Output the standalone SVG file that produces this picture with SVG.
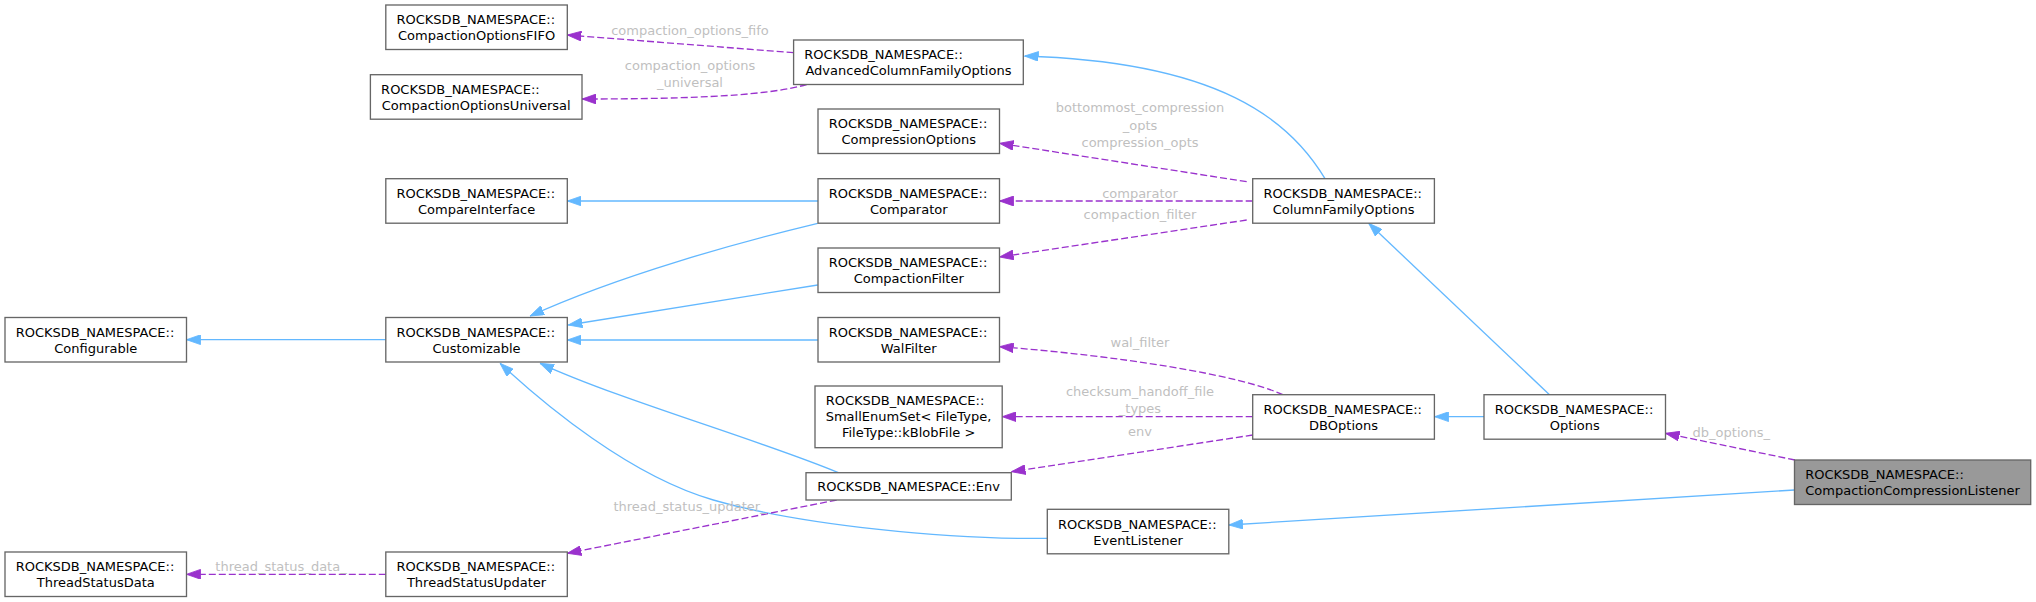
<svg xmlns="http://www.w3.org/2000/svg" width="2036" height="602" viewBox="0 0 2036 602">
<style>
.box{fill:#ffffff;stroke:#666666;stroke-width:1.33}
.main{fill:#999999;stroke:#666666;stroke-width:1.33}
.t{font-family:"DejaVu Sans","Liberation Sans",sans-serif;font-size:13px;fill:#000000}
.c{text-anchor:middle}
.lbl{font-family:"DejaVu Sans","Liberation Sans",sans-serif;font-size:13px;fill:#bfbfbf;text-anchor:middle}
.inh{fill:none;stroke:#63b8ff;stroke-width:1.33;marker-end:url(#ab)}
.use{fill:none;stroke:#9a32cd;stroke-width:1.33;stroke-dasharray:7,3;marker-end:url(#ap)}
</style>
<defs>
<marker id="ab" markerUnits="userSpaceOnUse" markerWidth="14" markerHeight="10" viewBox="0 0 13.33 9.33" refX="13.33" refY="4.67" orient="auto">
<path d="M0,0 L13.33,4.67 L0,9.33 z" fill="#63b8ff" stroke="#63b8ff" stroke-width="0.8"/>
</marker>
<marker id="ap" markerUnits="userSpaceOnUse" markerWidth="14" markerHeight="10" viewBox="0 0 13.33 9.33" refX="13.33" refY="4.67" orient="auto">
<path d="M0,0 L13.33,4.67 L0,9.33 z" fill="#9a32cd" stroke="#9a32cd" stroke-width="0.8"/>
</marker>
</defs>
<rect width="2036" height="602" fill="#ffffff"/>

<g id="connectors">
<path class="inh" d="M385.8,339.7 L186.5,339.7"/>
<path class="inh" d="M818,201 L567.3,201"/>
<path class="inh" d="M817.7,223.3 C740,242 620,275 530,316"/>
<path class="inh" d="M817.7,285 L568.3,325"/>
<path class="inh" d="M818,340 L567.3,340"/>
<path class="inh" d="M838.3,472.7 C760,440 620,400 540,363.3"/>
<path class="inh" d="M1047.3,538.3 C950,540 800,525 713.3,500 C630,476 545,405 500,363.3"/>
<path class="inh" d="M1325,178.7 C1290,120 1220,62 1024.5,56"/>
<path class="inh" d="M1549.5,394.7 L1368.7,223.3"/>
<path class="inh" d="M1484,416.7 L1434.6,416.7"/>
<path class="inh" d="M1794.5,490 L1228.8,525"/>

<path class="use" d="M793.6,52.7 L567.3,35"/>
<text class="lbl" x="690" y="34.9">compaction_options_fifo</text>
<path class="use" d="M806.7,84.5 C770,95 700,99 582,99"/>
<text class="lbl" x="690" y="70.2">compaction_options</text>
<text class="lbl" x="690" y="87.2">_universal</text>
<path class="use" d="M1246.7,181.7 L999.5,143.3"/>
<text class="lbl" x="1140" y="112.2">bottommost_compression</text>
<text class="lbl" x="1140" y="129.6">_opts</text>
<text class="lbl" x="1140" y="146.6">compression_opts</text>
<path class="use" d="M1252.7,201 L999.5,201"/>
<text class="lbl" x="1140" y="197.6">comparator</text>
<path class="use" d="M1246.7,220 L999.5,257"/>
<text class="lbl" x="1140" y="219.2">compaction_filter</text>
<path class="use" d="M1282.8,394.7 C1240,375 1120,356 999.5,346.7"/>
<text class="lbl" x="1140" y="346.6">wal_filter</text>
<path class="use" d="M1252.7,416.7 L1002.2,416.7"/>
<text class="lbl" x="1140" y="395.9">checksum_handoff_file</text>
<text class="lbl" x="1140" y="413.2">_types</text>
<path class="use" d="M1252.7,435 L1011.5,471.7"/>
<text class="lbl" x="1140" y="435.9">env</text>
<path class="use" d="M836.7,500 L567.3,553.3"/>
<text class="lbl" x="690" y="510.9">thread_status_updater_</text>
<path class="use" d="M385.8,574.3 L186.5,574.3"/>
<text class="lbl" x="281" y="570.6">thread_status_data_</text>
<path class="use" d="M1795,460 L1665.5,433.3"/>
<text class="lbl" x="1731.3" y="436.6">db_options_</text>
</g>

<g id="n-configurable">
<rect class="box" x="5" y="317.5" width="181.5" height="44.5"/>
<text class="t" x="15.7" y="336.7">ROCKSDB_NAMESPACE::</text>
<text class="t c" x="95.75" y="352.7">Configurable</text>
</g>
<g id="n-customizable">
<rect class="box" x="385.8" y="317.5" width="181.5" height="44.5"/>
<text class="t" x="396.5" y="336.7">ROCKSDB_NAMESPACE::</text>
<text class="t c" x="476.55" y="352.7">Customizable</text>
</g>
<g id="n-threadstatusdata">
<rect class="box" x="5" y="552" width="181.5" height="44.5"/>
<text class="t" x="15.7" y="571.2">ROCKSDB_NAMESPACE::</text>
<text class="t c" x="95.75" y="587.2">ThreadStatusData</text>
</g>
<g id="n-threadstatusupdater">
<rect class="box" x="385.8" y="552" width="181.5" height="44.5"/>
<text class="t" x="396.5" y="571.2">ROCKSDB_NAMESPACE::</text>
<text class="t c" x="476.55" y="587.2">ThreadStatusUpdater</text>
</g>
<g id="n-fifo">
<rect class="box" x="385.8" y="5" width="181.5" height="44.5"/>
<text class="t" x="396.5" y="24.2">ROCKSDB_NAMESPACE::</text>
<text class="t c" x="476.55" y="40.2">CompactionOptionsFIFO</text>
</g>
<g id="n-universal">
<rect class="box" x="370.4" y="74.7" width="211.6" height="44.5"/>
<text class="t" x="381.1" y="93.9">ROCKSDB_NAMESPACE::</text>
<text class="t c" x="476.2" y="109.9">CompactionOptionsUniversal</text>
</g>
<g id="n-compareinterface">
<rect class="box" x="385.8" y="178.7" width="181.5" height="44.5"/>
<text class="t" x="396.5" y="197.9">ROCKSDB_NAMESPACE::</text>
<text class="t c" x="476.55" y="213.9">CompareInterface</text>
</g>
<g id="n-acfo">
<rect class="box" x="793.6" y="40" width="229.7" height="44.5"/>
<text class="t" x="804.3" y="59.2">ROCKSDB_NAMESPACE::</text>
<text class="t c" x="908.45" y="75.2">AdvancedColumnFamilyOptions</text>
</g>
<g id="n-compressionoptions">
<rect class="box" x="818" y="109" width="181.5" height="44.5"/>
<text class="t" x="828.7" y="128.2">ROCKSDB_NAMESPACE::</text>
<text class="t c" x="908.75" y="144.2">CompressionOptions</text>
</g>
<g id="n-comparator">
<rect class="box" x="818" y="178.7" width="181.5" height="44.5"/>
<text class="t" x="828.7" y="197.9">ROCKSDB_NAMESPACE::</text>
<text class="t c" x="908.75" y="213.9">Comparator</text>
</g>
<g id="n-compactionfilter">
<rect class="box" x="818" y="248" width="181.5" height="44.5"/>
<text class="t" x="828.7" y="267.2">ROCKSDB_NAMESPACE::</text>
<text class="t c" x="908.75" y="283.2">CompactionFilter</text>
</g>
<g id="n-walfilter">
<rect class="box" x="818" y="317.5" width="181.5" height="44.5"/>
<text class="t" x="828.7" y="336.7">ROCKSDB_NAMESPACE::</text>
<text class="t c" x="908.75" y="352.7">WalFilter</text>
</g>
<g id="n-smallenumset">
<rect class="box" x="815" y="386" width="187.2" height="61.7"/>
<text class="t" x="825.7" y="405.2">ROCKSDB_NAMESPACE::</text>
<text class="t" x="825.7" y="421.2">SmallEnumSet&lt; FileType,</text>
<text class="t c" x="908.6" y="437.2">FileType::kBlobFile &gt;</text>
</g>
<g id="n-env">
<rect class="box" x="806" y="472.7" width="205.3" height="27.3"/>
<text class="t c" x="908.65" y="491">ROCKSDB_NAMESPACE::Env</text>
</g>
<g id="n-eventlistener">
<rect class="box" x="1047.3" y="509.3" width="181.5" height="44.5"/>
<text class="t" x="1058" y="528.5">ROCKSDB_NAMESPACE::</text>
<text class="t c" x="1138.05" y="544.5">EventListener</text>
</g>
<g id="n-cfo">
<rect class="box" x="1252.7" y="178.7" width="181.7" height="44.5"/>
<text class="t" x="1263.4" y="197.9">ROCKSDB_NAMESPACE::</text>
<text class="t c" x="1343.55" y="213.9">ColumnFamilyOptions</text>
</g>
<g id="n-dboptions">
<rect class="box" x="1252.7" y="394.7" width="181.7" height="44.5"/>
<text class="t" x="1263.4" y="413.9">ROCKSDB_NAMESPACE::</text>
<text class="t c" x="1343.55" y="429.9">DBOptions</text>
</g>
<g id="n-options">
<rect class="box" x="1484" y="394.7" width="181.5" height="44.5"/>
<text class="t" x="1494.7" y="413.9">ROCKSDB_NAMESPACE::</text>
<text class="t c" x="1574.75" y="429.9">Options</text>
</g>
<g id="n-ccl">
<rect class="main" x="1794.5" y="460" width="236.2" height="44.5"/>
<text class="t" x="1805.2" y="479.2">ROCKSDB_NAMESPACE::</text>
<text class="t c" x="1912.6" y="495.2">CompactionCompressionListener</text>
</g>
</svg>
